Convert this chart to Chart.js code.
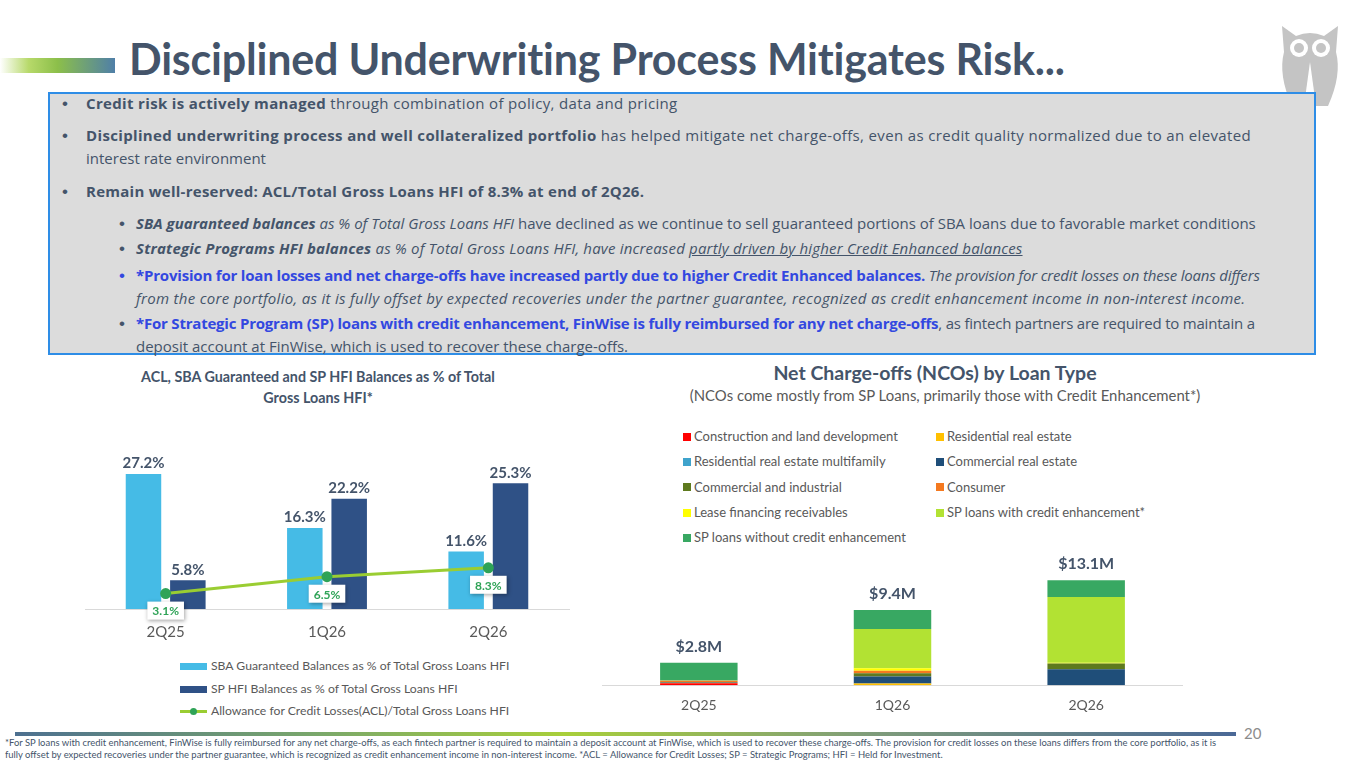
<!DOCTYPE html>
<html>
<head>
<meta charset="utf-8">
<script src="https://cdn.jsdelivr.net/npm/chart.js@4.4.1/dist/chart.umd.min.js"></script>
<style>
  body { margin: 0; width: 1365px; height: 768px; background: #fff; font-family: Lato, "Open Sans", sans-serif; position: relative; overflow: hidden; }
  .abs { position: absolute; }
  #titlebar { left: 0; top: 58px; width: 115px; height: 15px; background: linear-gradient(90deg, #ffffff 0%, #b7d96a 25%, #8cbf4a 50%, #4f7fa8 100%); }
  #title { left: 129px; top: 33px; font-size: 43px; font-weight: 700; color: #44546A; white-space: nowrap; letter-spacing: -0.2px; }
  #box { left: 48px; top: 92px; width: 1264px; height: 259px; border: 2px solid #2E8DE6; background: #DCDCDC; }
  .ln { position: absolute; white-space: nowrap; font-family: "Open Sans", sans-serif; font-size: 15px; color: #44546A; line-height: 23px; }
  .ln .b { position: absolute; left: -24px; font-family: Arial, sans-serif; font-size: 17px; letter-spacing: 0; }
  .blue { color: #3348E0; }
  #footline { left: 15px; top: 732px; width: 1221px; height: 4px; background: linear-gradient(90deg, #4d7090 0%, #7aa86a 25%, #a8cf3a 45%, #7f9c7a 70%, #4a6896 100%); }
  #pgnum { left: 1244px; top: 724px; font-size: 15px; color: #8c8c8c; }
  #foot { left: 5px; top: 737px; font-size: 9.45px; color: #44546A; line-height: 12px; white-space: nowrap; }
  .ctitle { text-align: center; color: #44546A; font-weight: 700; }
  .lg { position: absolute; color: #595959; white-space: nowrap; }
  .sw { display: inline-block; vertical-align: middle; margin-right: 4px; }
</style>
</head>
<body>
<div id="titlebar" class="abs"></div>
<div id="title" class="abs">Disciplined Underwriting Process Mitigates Risk...</div>
<svg class="abs" style="left:1274px;top:20px" width="72" height="86" viewBox="0 0 72 86">
  <path d="M8 6 L22 16 Q36 10 50 16 L64 6 L62 32 Q68 55 54 86 L18 86 Q4 55 10 32 Z" fill="#c4c4c4"/>
  <circle cx="25" cy="28" r="9" fill="#fff"/><circle cx="47" cy="28" r="9" fill="#fff"/>
  <circle cx="25" cy="28" r="5" fill="#c4c4c4"/><circle cx="47" cy="28" r="5" fill="#c4c4c4"/>
  <path d="M36 42 L30 86 L42 86 Z" fill="#fff"/>
</svg>

<div id="box" class="abs">
  <div class="ln" style="left:36px;top:-2px;letter-spacing:0.34px"><span class="b">•</span><b>Credit risk is actively managed</b> through combination of policy, data and pricing</div>
  <div class="ln" style="left:36px;top:30px;letter-spacing:0.35px"><span class="b">•</span><b>Disciplined underwriting process and well collateralized portfolio</b> has helped mitigate net charge-offs, even as credit quality normalized due to an elevated</div>
  <div class="ln" style="left:36px;top:53px">interest rate environment</div>
  <div class="ln" style="left:36px;top:86px;letter-spacing:0.26px"><span class="b">•</span><b>Remain well-reserved: ACL/Total Gross Loans HFI of 8.3% at end of 2Q26.</b></div>
  <div class="ln" style="left:86px;top:118px"><span class="b" style="left:-17px">•</span><i><b>SBA guaranteed balances</b> as % of Total Gross Loans HFI</i> have declined as we continue to sell guaranteed portions of SBA loans due to favorable market conditions</div>
  <div class="ln" style="left:86px;top:143px;letter-spacing:0.18px"><span class="b" style="left:-17px">•</span><i><b>Strategic Programs HFI balances</b> as % of Total Gross Loans HFI, have increased <u>partly driven by higher Credit Enhanced balances</u></i></div>
  <div class="ln" style="left:86px;top:170px;letter-spacing:-0.19px"><span class="b blue" style="left:-17px">•</span><b class="blue">*Provision for loan losses and net charge-offs have increased partly due to higher Credit Enhanced balances.</b> <i>The provision for credit losses on these loans differs</i></div>
  <div class="ln" style="left:86px;top:193px;letter-spacing:0.3px"><i>from the core portfolio, as it is fully offset by expected recoveries under the partner guarantee, recognized as credit enhancement income in non-interest income.</i></div>
  <div class="ln" style="left:86px;top:218px;letter-spacing:-0.21px"><span class="b" style="left:-17px">•</span><b class="blue">*For Strategic Program (SP) loans with credit enhancement, FinWise is fully reimbursed for any net charge-offs</b>, as fintech partners are required to maintain a</div>
  <div class="ln" style="left:86px;top:241px">deposit account at FinWise, which is used to recover these charge-offs.</div>
</div>

<div class="abs ctitle" style="left:90px;top:366px;width:456px;font-size:14.3px;line-height:21px">ACL, SBA Guaranteed and SP HFI Balances as % of Total<br>Gross Loans HFI*</div>
<div class="abs" style="left:78px;top:440px;width:498px;height:215px"><canvas id="left"></canvas></div>
<div id="leftLegend"></div>

<div class="abs ctitle" style="left:640px;top:361px;width:590px;font-size:19.5px">Net Charge-offs (NCOs) by Loan Type</div>
<div class="abs ctitle" style="left:630px;top:386px;width:630px;font-size:14.9px;font-weight:400;color:#595959">(NCOs come mostly from SP Loans, primarily those with Credit Enhancement*)</div>
<div id="rightLegend"></div>
<div class="abs" style="left:602px;top:540px;width:581px;height:186px"><canvas id="right"></canvas></div>

<div id="footline" class="abs"></div>
<div id="pgnum" class="abs">20</div>
<div id="foot" class="abs">*For SP loans with credit enhancement, FinWise is fully reimbursed for any net charge-offs, as each fintech partner is required to maintain a deposit account at FinWise, which is used to recover these charge-offs. The provision for credit losses on these loans differs from the core portfolio, as it is<br>fully offset by expected recoveries under the partner guarantee, which is recognized as credit enhancement income in non-interest income. *ACL = Allowance for Credit Losses; SP = Strategic Programs; HFI = Held for Investment.</div>

<script>
// left chart data
var quarters = ['2Q25', '1Q26', '2Q26'];
var sbaPct = [27.2, 16.3, 11.6];
var spPct = [5.8, 22.2, 25.3];
var aclPct = [3.1, 6.5, 8.3];
var leftNames = ['SBA Guaranteed Balances as % of Total Gross Loans HFI', 'SP HFI Balances as % of Total Gross Loans HFI', 'Allowance for Credit Losses(ACL)/Total Gross Loans HFI'];

// right chart data ($M)
var loanTypes = ['Construction and land development', 'Residential real estate', 'Residential real estate multifamily', 'Commercial real estate', 'Commercial and industrial', 'Consumer', 'Lease financing receivables', 'SP loans with credit enhancement*', 'SP loans without credit enhancement'];
var constructionNco = [0.25, 0, 0];
var residentialNco = [0.05, 0.2, 0];
var multifamilyNco = [0, 0, 0];
var commercialReNco = [0.1, 0.9, 2.0];
var commercialIndNco = [0, 0.4, 0.7];
var consumerNco = [0.15, 0.3, 0];
var leaseNco = [0, 0.3, 0.1];
var spWithCeNco = [0.05, 4.9, 8.2];
var spWithoutCeNco = [2.2, 2.4, 2.1];
var ncoColors = ['#FF0000', '#FFC000', '#3FA3CC', '#1F4E79', '#5E7A1E', '#F47920', '#FFFF00', '#B2E233', '#38A862'];

var textCol = '#44546A';

var valueLabels = {
	id: 'valueLabels',
	afterDatasetsDraw: function(chart) {
		var ctx = chart.ctx;
		ctx.save();
		chart.data.datasets.forEach(function(ds, i) {
			var meta = chart.getDatasetMeta(i);
			meta.data.forEach(function(el, j) {
				var txt = ds.data[j].toFixed(1) + '%';
				if (ds.type == 'line') {
					ctx.font = 'bold 12px Lato';
					var w = ctx.measureText(txt).width + 10;
					var cy = el.y + 17;
					ctx.shadowColor = 'rgba(0,0,0,0.35)';
					ctx.shadowBlur = 4;
					ctx.shadowOffsetX = 1;
					ctx.shadowOffsetY = 1;
					ctx.fillStyle = '#fff';
					ctx.fillRect(el.x - w / 2, cy - 9, w, 18);
					ctx.shadowColor = 'transparent';
					ctx.fillStyle = '#2FA357';
					ctx.textAlign = 'center';
					ctx.textBaseline = 'middle';
					ctx.fillText(txt, el.x, cy + 1);
				} else {
					ctx.font = 'bold 15px Lato';
					ctx.fillStyle = textCol;
					ctx.textAlign = 'center';
					ctx.textBaseline = 'bottom';
					ctx.fillText(txt, el.x, el.y - 3);
				}
			});
		});
		ctx.restore();
	}
};

new Chart(document.getElementById('left'), {
	type: 'bar',
	data: {
		labels: quarters,
		datasets: [
			{ type: 'line', label: leftNames[2], data: aclPct, borderColor: '#9ACD32', borderWidth: 3, pointBackgroundColor: '#2FA357', pointBorderColor: '#2FA357', pointRadius: 4, order: 0 },
			{ label: leftNames[0], data: sbaPct, backgroundColor: '#45BBE6', order: 1, categoryPercentage: 0.55, barPercentage: 0.8 },
			{ label: leftNames[1], data: spPct, backgroundColor: '#2F5186', order: 1, categoryPercentage: 0.55, barPercentage: 0.8 }
		]
	},
	options: {
		responsive: true, maintainAspectRatio: false, animation: false,
		layout: { padding: { top: 20, left: 0, right: 0, bottom: 0 } },
		plugins: { legend: { display: false }, tooltip: { enabled: false } },
		scales: {
			x: { grid: { display: false, drawTicks: false }, border: { display: true, color: '#D9D9D9' }, ticks: { color: '#595959', font: { family: 'Lato', size: 15 }, padding: 14 } },
			y: { display: false, min: 0, max: 30 }
		}
	},
	plugins: [valueLabels]
});

// left legend
var lg = document.getElementById('leftLegend');
var swatches = [
	'<span class="sw" style="width:27px;height:7px;background:#45BBE6"></span>',
	'<span class="sw" style="width:27px;height:7px;background:#2F5186"></span>',
	'<span class="sw" style="width:27px;height:3px;background:#9ACD32;position:relative"><span style="position:absolute;left:10px;top:-2px;width:7px;height:7px;border-radius:50%;background:#2FA357"></span></span>'
];
for (var i = 0; i < leftNames.length; i++) {
	lg.innerHTML += '<div class="lg" style="font-size:12.2px;left:180px;top:' + (658 + i * 22.5) + 'px">' + swatches[i] + leftNames[i] + '</div>';
}

// right legend
var rg = document.getElementById('rightLegend');
for (var i = 0; i < loanTypes.length; i++) {
	var col = i % 2, row = Math.floor(i / 2);
	rg.innerHTML += '<div class="lg" style="font-size:13px;left:' + (683 + col * 253) + 'px;top:' + (428 + row * 25.3) + 'px"><span class="sw" style="width:8px;height:8px;background:' + ncoColors[i] + ';margin-right:3px;margin-top:-2px"></span>' + loanTypes[i] + '</div>';
}

var ncoSeries = [constructionNco, residentialNco, multifamilyNco, commercialReNco, commercialIndNco, consumerNco, leaseNco, spWithCeNco, spWithoutCeNco];
var ncoTotals = quarters.map(function(q, j) {
	var s = 0;
	ncoSeries.forEach(function(arr) { s += arr[j]; });
	return s;
});

var totalLabels = {
	id: 'totalLabels',
	afterDatasetsDraw: function(chart) {
		var ctx = chart.ctx;
		var meta = chart.getDatasetMeta(0);
		ctx.save();
		ctx.font = 'bold 16px Lato';
		ctx.fillStyle = textCol;
		ctx.textAlign = 'center';
		ctx.textBaseline = 'bottom';
		ncoTotals.forEach(function(t, j) {
			var y = chart.scales.y.getPixelForValue(t);
			ctx.fillText('$' + t.toFixed(1) + 'M', meta.data[j].x, y - 8);
		});
		ctx.restore();
	}
};

new Chart(document.getElementById('right'), {
	type: 'bar',
	data: {
		labels: quarters,
		datasets: ncoSeries.map(function(arr, i) {
			return { label: loanTypes[i], data: arr, backgroundColor: ncoColors[i], categoryPercentage: 0.5, barPercentage: 0.8 };
		})
	},
	options: {
		responsive: true, maintainAspectRatio: false, animation: false,
		layout: { padding: { top: 17, left: 0, right: 0, bottom: 0 } },
		plugins: { legend: { display: false }, tooltip: { enabled: false } },
		scales: {
			x: { stacked: true, grid: { display: false, drawTicks: false }, border: { display: true, color: '#D9D9D9' }, ticks: { color: '#595959', font: { family: 'Lato', size: 14 }, padding: 12 } },
			y: { stacked: true, display: false, min: 0, max: 16 }
		}
	},
	plugins: [totalLabels]
});
</script>
</body>
</html>
